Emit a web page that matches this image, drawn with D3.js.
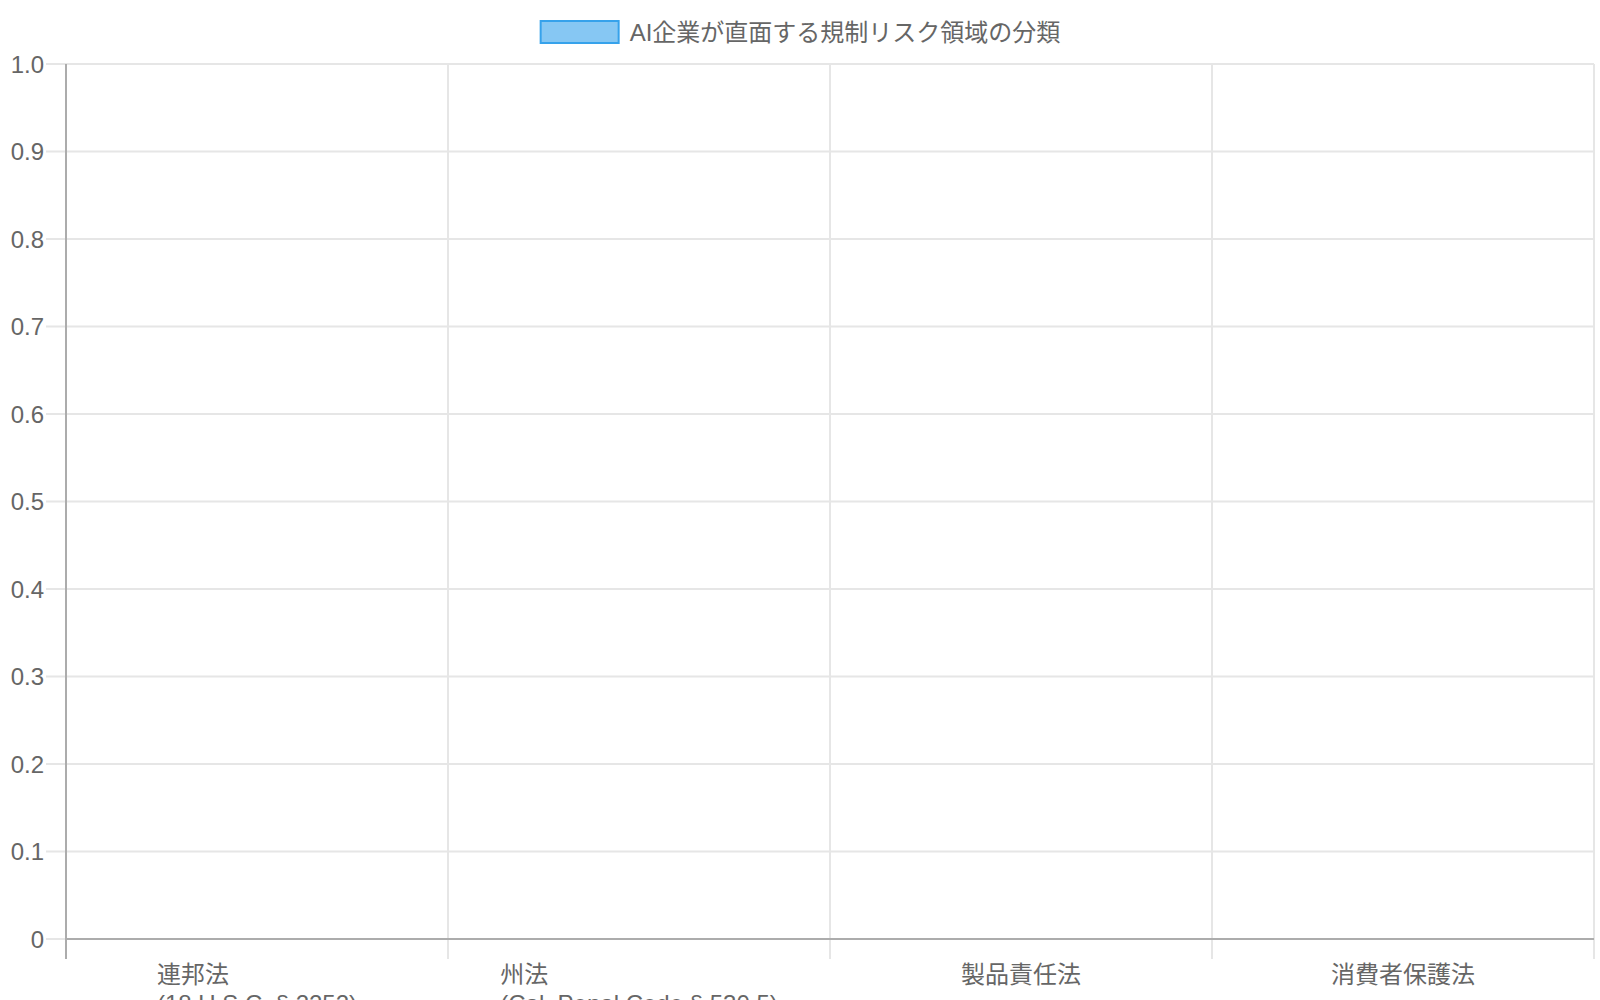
<!DOCTYPE html>
<html><head><meta charset="utf-8">
<script src="https://cdn.jsdelivr.net/npm/d3@7/dist/d3.min.js"></script>
<style>
html,body{margin:0;padding:0;background:#fff;}
svg{display:block;font-family:"Liberation Sans","Noto Sans CJK JP",sans-serif;}
</style></head>
<body>
<svg id="chart" width="1600" height="1000"></svg>
<script>
const seriesName = "AI企業が直面する規制リスク領域の分類";
const categories = ["連邦法", "州法", "製品責任法", "消費者保護法"];
const categoryLines = [
  ["連邦法", "(18 U.S.C. § 2252)"],
  ["州法", "(Cal. Penal Code § 530.5)"],
  ["製品責任法"],
  ["消費者保護法"]
];
const values = [0, 0, 0, 0];
const yTicks = [0, 0.1, 0.2, 0.3, 0.4, 0.5, 0.6, 0.7, 0.8, 0.9, 1.0];
const yTickLabels = ["0", "0.1", "0.2", "0.3", "0.4", "0.5", "0.6", "0.7", "0.8", "0.9", "1.0"];

(function () {
const svg = d3.select("#chart");
const pLeft = 66, pRight = 1594, pTop = 64, pBottom = 939;
const textColor = "#666";
const fontSize = 24;

const x = d3.scaleBand().domain(categories).range([pLeft, pRight]).padding(0);
const y = d3.scaleLinear().domain([0, 1]).range([pBottom, pTop]);

// horizontal grid lines (with tick marks extending left)
const gy = svg.append("g");
gy.selectAll("line").data(yTicks).join("line")
  .attr("x1", pLeft - 20).attr("x2", pRight)
  .attr("y1", d => y(d)).attr("y2", d => y(d))
  .attr("stroke", "#e6e6e6")
  .attr("stroke-width", 2);
gy.selectAll("text").data(yTicks).join("text")
  .attr("x", pLeft - 22).attr("y", d => y(d))
  .attr("text-anchor", "end").attr("dominant-baseline", "central")
  .attr("fill", textColor).attr("font-size", fontSize)
  .text((d, i) => yTickLabels[i]);

// vertical grid lines at category boundaries
const bounds = categories.map(c => x(c)).concat([x(categories[categories.length - 1]) + x.bandwidth()]);
svg.append("g").selectAll("line").data(bounds).join("line")
  .attr("x1", d => d).attr("x2", d => d)
  .attr("y1", pTop).attr("y2", pBottom + 20)
  .attr("stroke", "#e6e6e6").attr("stroke-width", 2);

// axis lines
svg.append("line").attr("x1", pLeft).attr("x2", pLeft).attr("y1", pTop).attr("y2", pBottom + 20)
  .attr("stroke", "#acacac").attr("stroke-width", 2);
svg.append("line").attr("x1", pLeft).attr("x2", pRight).attr("y1", y(0)).attr("y2", y(0))
  .attr("stroke", "#acacac").attr("stroke-width", 2);

// bars (all zero)
svg.append("g").selectAll("rect").data(values).join("rect")
  .attr("x", (d, i) => x(categories[i]) + x.bandwidth() * 0.1)
  .attr("width", x.bandwidth() * 0.8)
  .attr("y", d => y(d)).attr("height", d => y(0) - y(d))
  .attr("fill", "rgba(54,162,235,0.6)");

// x labels: block centered, lines left-aligned
const gx = svg.append("g");
categoryLines.forEach((lines, i) => {
  const cx = x(categories[i]) + x.bandwidth() / 2;
  const t = gx.append("text").attr("fill", textColor).attr("font-size", fontSize);
  lines.forEach((ln, j) => {
    t.append("tspan").attr("x", 0).attr("y", 974 + j * 29)
      .attr("dominant-baseline", "central").text(ln);
  });
  const w = t.node().getBBox().width;
  t.selectAll("tspan").attr("x", cx - w / 2);
});

// legend
const lg = svg.append("g");
const lt = lg.append("text").attr("font-size", fontSize).attr("fill", textColor)
  .attr("dominant-baseline", "central").attr("y", 32).text(seriesName);
const tw = lt.node().getBBox().width;
const total = 80 + 10 + tw;
const lx = 800 - total / 2;
lg.insert("rect", "text").attr("x", lx + 1).attr("y", 21).attr("width", 78).attr("height", 22)
  .attr("fill", "rgba(54,162,235,0.6)").attr("stroke", "#36a2eb").attr("stroke-width", 2);
lt.attr("x", lx + 90);
})();
</script>
</body></html>
